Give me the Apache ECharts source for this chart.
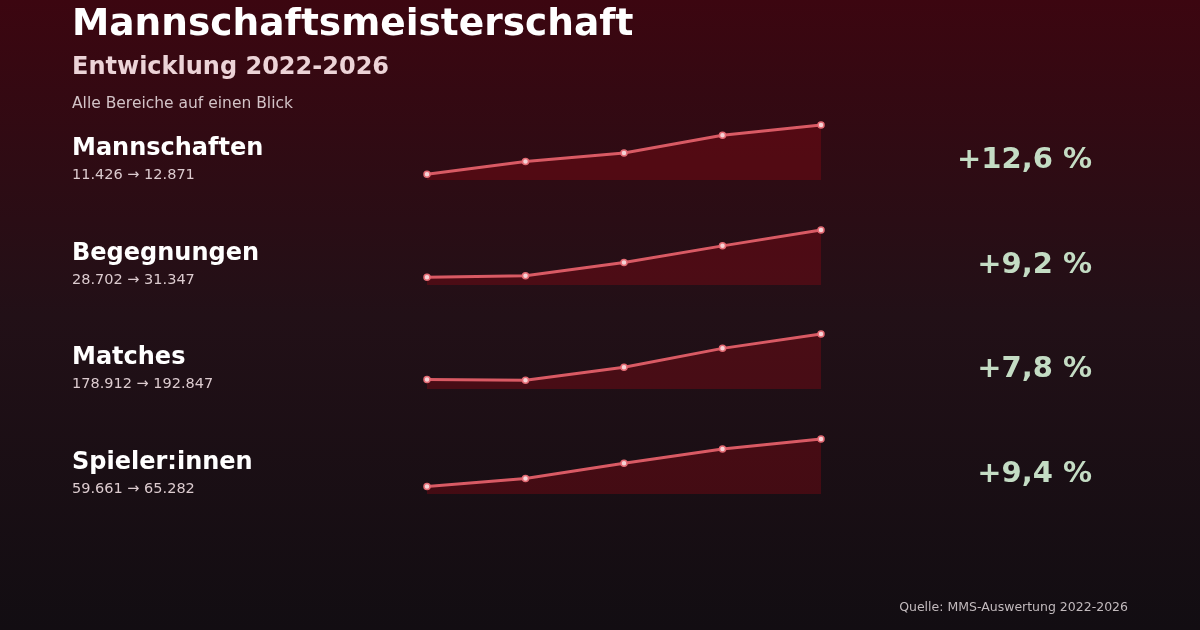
<!DOCTYPE html>
<html>
<head>
<meta charset="utf-8">
<script src="https://cdn.jsdelivr.net/npm/echarts@6/dist/echarts.min.js"></script>
<style>
  html, body { margin: 0; padding: 0; background: #120d12; }
  #chart { width: 1200px; height: 630px; }
</style>
</head>
<body>
<div id="chart"></div>
<script>
var years = ['2022', '2023', '2024', '2025', '2026'];
var names = ['Mannschaften', 'Begegnungen', 'Matches', 'Spieler:innen'];
var mannschaften = [11426, 11800, 12050, 12570, 12871];
var begegnungen = [28702, 28790, 29530, 30460, 31347];
var matches = [178912, 178700, 182650, 188450, 192847];
var spieler = [59661, 60600, 62420, 64100, 65282];
var rows = [mannschaften, begegnungen, matches, spieler];

var font = '"DejaVu Sans", sans-serif';
var rowTops = [125, 230, 334, 439];

function fmt(n) {
  return String(n).replace(/\B(?=(\d{3})+(?!\d))/g, '.');
}
function pct(arr) {
  var p = (arr[arr.length - 1] / arr[0] - 1) * 100;
  return '+' + p.toFixed(1).replace('.', ',') + ' %';
}

var myChart = echarts.init(document.getElementById('chart'));

var grids = [], xAxes = [], yAxes = [], series = [];
var texts = [
  { type: 'text', left: 72, top: 6, style: { text: 'Mannschaftsmeisterschaft', font: 'bold 37.5px ' + font, fill: '#ffffff' } },
  { type: 'text', left: 72, top: 56, style: { text: 'Entwicklung 2022-2026', font: 'bold 24px ' + font, fill: '#ecd3d7' } },
  { type: 'text', left: 72, top: 96, style: { text: 'Alle Bereiche auf einen Blick', font: '15.5px ' + font, fill: '#d3c3c7' } },
  { type: 'text', right: 72, top: 601, style: { text: 'Quelle: MMS-Auswertung 2022-2026', font: '12.5px ' + font, fill: '#c2babd' } }
];

rows.forEach(function (data, i) {
  var top = rowTops[i];
  grids.push({ left: 427, width: 394, top: top, height: 55 });
  xAxes.push({ type: 'category', gridIndex: i, data: years, boundaryGap: false, show: false });
  yAxes.push({
    type: 'value', gridIndex: i, show: false, scale: true,
    min: function (v) { return v.min * 0.985; },
    max: 'dataMax'
  });
  series.push({
    type: 'line',
    xAxisIndex: i,
    yAxisIndex: i,
    data: data,
    symbol: 'circle',
    symbolSize: 6,
    lineStyle: { color: '#d95a64', width: 3 },
    itemStyle: { color: '#f6d3d6', borderColor: '#e36b74', borderWidth: 1.5 },
    areaStyle: { color: 'rgba(145, 8, 18, 0.52)', origin: 'start' },
    silent: true,
    animation: false
  });
  texts.push({ type: 'text', left: 72, top: top + 12, style: { text: names[i], font: 'bold 24px ' + font, fill: '#ffffff' } });
  texts.push({ type: 'text', left: 72, top: top + 43, style: { text: fmt(data[0]) + ' \u2192 ' + fmt(data[data.length - 1]), font: '14.5px ' + font, fill: '#dccbcf' } });
  texts.push({ type: 'text', right: 108, top: top + 21, style: { text: pct(data), font: 'bold 29px ' + font, fill: '#c4dcc4' } });
});

var option = {
  backgroundColor: new echarts.graphic.LinearGradient(0, 0, 0, 1, [
    { offset: 0, color: '#3c0610' },
    { offset: 0.5, color: '#221017' },
    { offset: 1, color: '#120d12' }
  ]),
  animation: false,
  grid: grids,
  xAxis: xAxes,
  yAxis: yAxes,
  series: series,
  graphic: texts
};

myChart.setOption(option);
window.onresize = () => myChart.resize();
</script>
</body>
</html>
